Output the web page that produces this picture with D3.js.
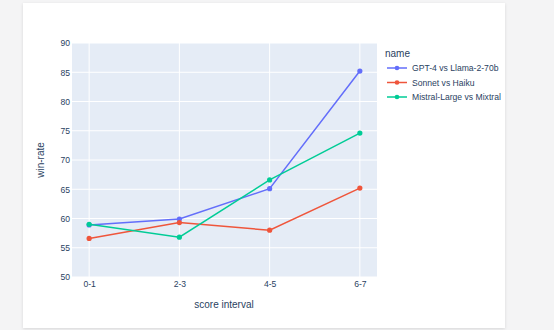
<!DOCTYPE html>
<html>
<head>
<meta charset="utf-8">
<script src="https://cdn.jsdelivr.net/npm/d3@7"></script>
<style>
  html, body { margin: 0; padding: 0; background: #f4f4f5; }
  #card { position: absolute; left: 23px; top: 3px; width: 482px; height: 325px; background: #fff;
          box-shadow: 0 1px 3px rgba(0,0,0,0.12); }
</style>
</head>
<body>
<div id="card"></div>
<svg id="chart" width="554" height="330" style="position:absolute;left:0;top:0"></svg>
<script>
// data
const categories = ["0-1", "2-3", "4-5", "6-7"];
const seriesNames = ["GPT-4 vs Llama-2-70b", "Sonnet vs Haiku", "Mistral-Large vs Mixtral"];
const gptValues = [58.9, 59.9, 65.1, 85.2];
const sonnetValues = [56.6, 59.3, 58.0, 65.2];
const mistralValues = [59.0, 56.8, 66.6, 74.6];
const yTicks = [50, 55, 60, 65, 70, 75, 80, 85, 90];

const colors = ["#636efa", "#EF553B", "#00cc96"];
const series = [gptValues, sonnetValues, mistralValues].map((v, i) => ({ name: seriesNames[i], values: v, color: colors[i] }));

const plot = { left: 72, right: 377, top: 43, bottom: 277 };
const font = "'Liberation Sans', Arial, sans-serif";
const textColor = "#2a3f5f";

const svg = d3.select("#chart");

const x = d3.scalePoint().domain(categories).range([plot.left, plot.right]).padding(0.19);
const y = d3.scaleLinear().domain([50, 90]).range([plot.bottom, plot.top]);

svg.append("rect")
    .attr("x", plot.left).attr("y", plot.top)
    .attr("width", plot.right - plot.left).attr("height", plot.bottom - plot.top)
    .attr("fill", "#E5ECF6");

// grid
svg.append("g").selectAll("line").data(yTicks).join("line")
    .attr("x1", plot.left).attr("x2", plot.right)
    .attr("y1", d => y(d)).attr("y2", d => y(d))
    .attr("stroke", "#fff").attr("stroke-width", 1);
svg.append("g").selectAll("line").data(categories).join("line")
    .attr("x1", d => x(d)).attr("x2", d => x(d))
    .attr("y1", plot.top).attr("y2", plot.bottom)
    .attr("stroke", "#fff").attr("stroke-width", 1);

// axes
const yAxis = svg.append("g")
    .attr("transform", `translate(${plot.left},0)`)
    .call(d3.axisLeft(y).tickValues(yTicks).tickSize(0).tickPadding(2));
const xAxis = svg.append("g")
    .attr("transform", `translate(0,${plot.bottom})`)
    .call(d3.axisBottom(x).tickSize(0).tickPadding(4));
[yAxis, xAxis].forEach(g => {
  g.select(".domain").remove();
  g.selectAll("text").attr("fill", textColor).style("font-family", font).style("font-size", "8.6px");
});

svg.append("text")
    .attr("transform", `translate(44,160) rotate(-90)`)
    .attr("text-anchor", "middle")
    .attr("fill", textColor).style("font-family", font).style("font-size", "10px")
    .text("win-rate");
svg.append("text")
    .attr("x", 224).attr("y", 308)
    .attr("text-anchor", "middle")
    .attr("fill", textColor).style("font-family", font).style("font-size", "10px")
    .text("score interval");

// lines
const line = d3.line().x((d, i) => x(categories[i])).y(d => y(d));
const g = svg.append("g");
series.forEach(s => {
  g.append("path").attr("d", line(s.values))
      .attr("fill", "none").attr("stroke", s.color).attr("stroke-width", 1.5);
  g.selectAll(null).data(s.values).join("circle")
      .attr("cx", (d, i) => x(categories[i])).attr("cy", d => y(d))
      .attr("r", 2.6).attr("fill", s.color);
});

// legend
const legend = svg.append("g").attr("transform", "translate(385,0)");
legend.append("text").attr("x", 0).attr("y", 57)
    .attr("fill", textColor).style("font-family", font).style("font-size", "10px")
    .text("name");
series.forEach((s, i) => {
  const yy = 68 + i * 14.5;
  legend.append("line").attr("x1", 2).attr("x2", 22).attr("y1", yy).attr("y2", yy)
      .attr("stroke", s.color).attr("stroke-width", 1.5);
  legend.append("circle").attr("cx", 12).attr("cy", yy).attr("r", 2.3).attr("fill", s.color);
  legend.append("text").attr("x", 27).attr("y", yy).attr("dy", "0.35em")
      .attr("fill", textColor).style("font-family", font).style("font-size", "8.6px")
      .text(s.name);
});
</script>
</body>
</html>
